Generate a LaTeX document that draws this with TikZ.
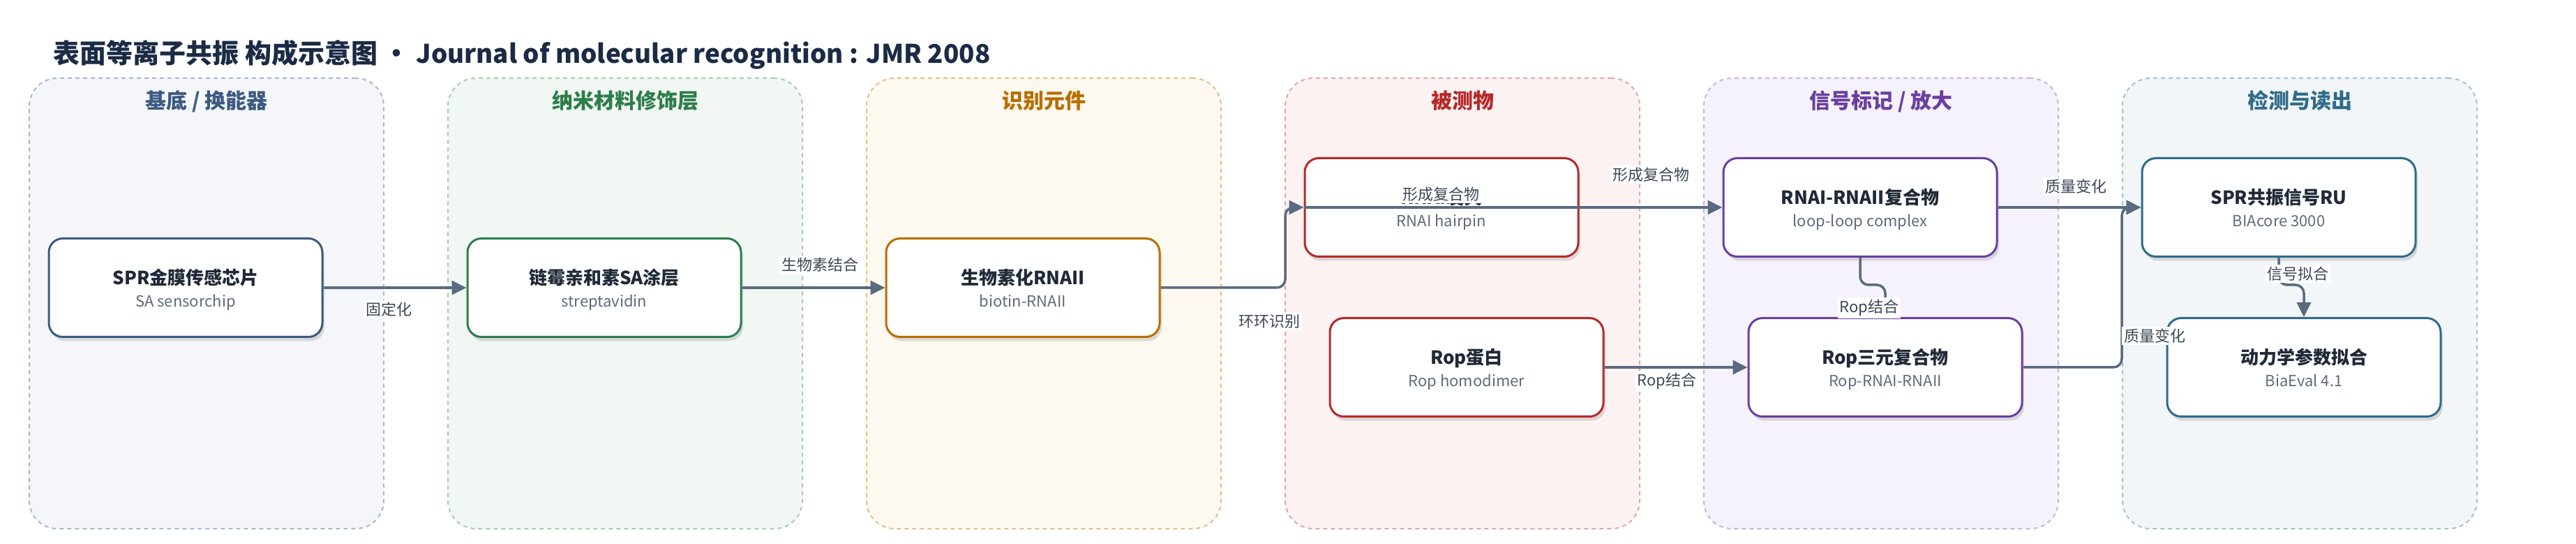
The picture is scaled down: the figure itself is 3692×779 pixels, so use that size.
\documentclass[tikz,border=0pt]{standalone}
\usepackage{fontspec}
\setmainfont{Noto Sans CJK SC}
\usetikzlibrary{arrows.meta,shadows,calc}
\definecolor{ttlc}{HTML}{1B2B45}
\definecolor{nodetxt}{HTML}{1F2937}
\definecolor{subtxt}{HTML}{5F6B7A}
\definecolor{edgec}{HTML}{5A6A80}
\definecolor{labc}{HTML}{3D4756}
\definecolor{cA}{HTML}{3D5A80}
\definecolor{cB}{HTML}{2E7D4A}
\definecolor{cC}{HTML}{B86E00}
\definecolor{cD}{HTML}{B52A2A}
\definecolor{cE}{HTML}{6A3FA0}
\definecolor{cF}{HTML}{2F6B8A}
\definecolor{fA}{HTML}{F4F6FA}
\definecolor{fB}{HTML}{F1F8F3}
\definecolor{fC}{HTML}{FDF8F0}
\definecolor{fD}{HTML}{FDF2F2}
\definecolor{fE}{HTML}{F6F2FB}
\definecolor{fF}{HTML}{F2F6F8}
\definecolor{dA}{HTML}{A9B8CC}
\definecolor{dB}{HTML}{A8CDB3}
\definecolor{dC}{HTML}{E2BF85}
\definecolor{dD}{HTML}{E6A5A5}
\definecolor{dE}{HTML}{C6B3E0}
\definecolor{dF}{HTML}{A5C2CF}
\tikzset{
  lane/.style={rectangle, rounded corners=20pt, minimum width=254pt, minimum height=322.5pt,
    line width=1pt, dash pattern=on 3pt off 2.5pt, inner sep=0pt},
  lanettl/.style={font=\bfseries\fontsize{15}{18}\selectfont, inner sep=0pt, anchor=base},
  nbox/.style={rectangle, rounded corners=10pt, minimum width=196pt, minimum height=70.5pt,
    fill=white, line width=1.5pt, inner sep=0pt,
    drop shadow={shadow xshift=1.5pt, shadow yshift=-3pt, fill=black, opacity=0.12}},
  ntitle/.style={font=\bfseries\fontsize{13}{16}\selectfont, text=nodetxt, inner sep=0pt, anchor=base},
  nsub/.style={font=\fontsize{11}{14}\selectfont, text=subtxt, inner sep=0pt, anchor=base},
  edge/.style={draw=edgec, line width=1.75pt, rounded corners=6pt,
    -{Triangle[length=10.5pt,width=10pt]}},
  elab/.style={fill=white, text=labc, font=\fontsize{11}{13}\selectfont, inner sep=1.5pt}
}
\newcommand\mkbox[6]{%
  \node[nbox, draw=#4] (#1) at (#2,#3) {};
  \node[ntitle] (#1t) at ($(#1.center)+(0,-4)$) {#5};
  \node[nsub] (#1s) at ($(#1.center)+(0,28)$) {#6};
}
\begin{document}
\begin{tikzpicture}[x=0.5pt,y=-0.5pt]
\useasboundingbox[fill=white] (0,0) rectangle (3692,779);
% title
\node[anchor=base west, inner sep=0pt, text=ttlc, font=\bfseries\fontsize{19}{22}\selectfont] (title) at (76,91)
  {表面等离子共振 构成示意图 • {\fontsize{18.4}{22}\selectfont Journal of molecular recognition : JMR 2008}};
% lanes
\node[lane, draw=dA, fill=fA] (L1) at (296,434.5) {};
\node[lane, draw=dB, fill=fB] (L2) at (896,434.5) {};
\node[lane, draw=dC, fill=fC] (L3) at (1496,434.5) {};
\node[lane, draw=dD, fill=fD] (L4) at (2096,434.5) {};
\node[lane, draw=dE, fill=fE] (L5) at (2696,434.5) {};
\node[lane, draw=dF, fill=fF] (L6) at (3296,434.5) {};
\node[lanettl, text=cA] (L1t) at (296,156) {基底 / 换能器};
\node[lanettl, text=cB] (L2t) at (896,156) {纳米材料修饰层};
\node[lanettl, text=cC] (L3t) at (1496,156) {识别元件};
\node[lanettl, text=cD] (L4t) at (2096,156) {被测物};
\node[lanettl, text=cE] (L5t) at (2696,156) {信号标记 / 放大};
\node[lanettl, text=cF] (L6t) at (3296,156) {检测与读出};
% nodes
\mkbox{n1}{266}{412}{cA}{SPR金膜传感芯片}{SA sensorchip}
\mkbox{n2}{866}{412}{cB}{链霉亲和素SA涂层}{streptavidin}
\mkbox{n3}{1466}{412}{cC}{生物素化RNAII}{biotin-RNAII}
\mkbox{n4}{2066}{297}{cD}{RNAI发夹}{RNAI hairpin}
\mkbox{n5}{2102}{526}{cD}{Rop蛋白}{Rop homodimer}
\mkbox{n6}{2666}{297}{cE}{RNAI-RNAII复合物}{loop-loop complex}
\mkbox{n7}{2702}{526}{cE}{Rop三元复合物}{Rop-RNAI-RNAII}
\mkbox{n8}{3266}{297}{cF}{SPR共振信号RU}{BIAcore 3000}
\mkbox{n9}{3302}{526}{cF}{动力学参数拟合}{BiaEval 4.1}
% edges
\draw[edge] (n1.east) -- (n2.west);
\draw[edge] (n2.east) -- (n3.west);
\draw[edge] (n3.east) -- (1842,412) -- (1842,297) -- (n4.west);
\node[elab] (l4b) at (2065,278) {形成复合物};
\draw[edge] (n4.west) -- (n6.west);
\draw[edge] (n5.east) -- (n7.west);
\draw[edge] (n6.south) -- (2666,408) -- (2702,408) -- (n7.north);
\draw[edge] (n6.east) -- (n8.west);
\draw[edge] (n7.east) -- (3041,526) -- (3041,297) -- (n8.west);
\draw[edge] (n8.south) -- (3266,408) -- (3302,408) -- (n9.north);
% edge labels
\node[elab] (l1) at (557,443) {固定化};
\node[elab] (l2) at (1175,379) {生物素结合};
\node[elab] (l3) at (1819,460) {环环识别};
\node[elab] (l4) at (2366,250) {形成复合物};
\node[elab] (l5) at (2389,546) {Rop结合};
\node[elab] (l6) at (2679,441) {Rop结合};
\node[elab] (l7) at (2975,267) {质量变化};
\node[elab] (l8) at (3088,481) {质量变化};
\node[elab] (l9) at (3293,392) {信号拟合};
\end{tikzpicture}
\end{document}
